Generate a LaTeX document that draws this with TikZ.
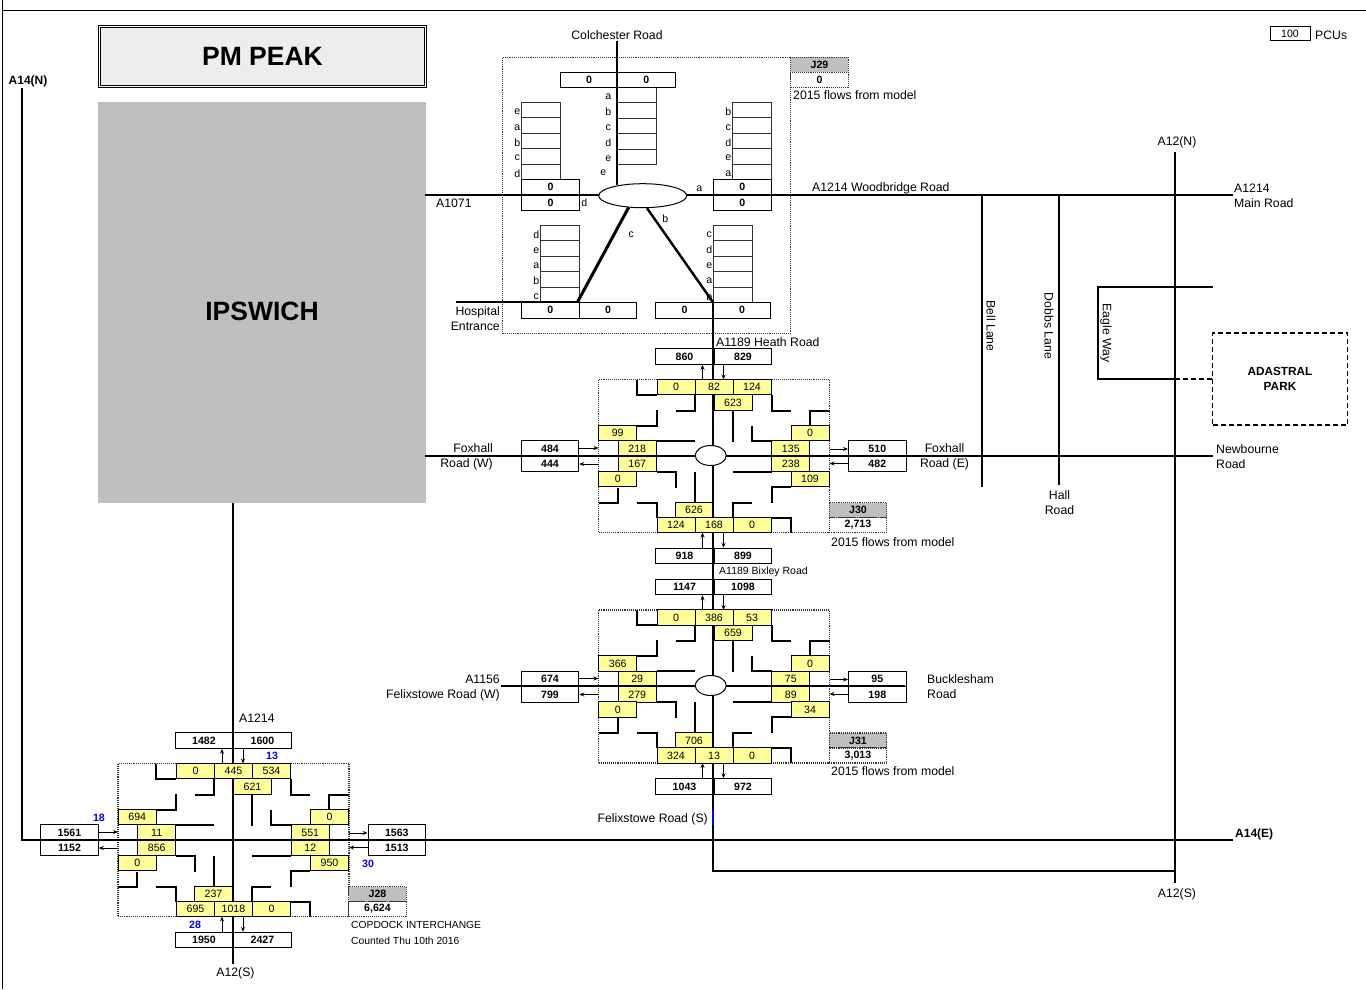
\documentclass[tikz,border=0pt]{standalone}
\usepackage{fontspec}
\setmainfont{Liberation Sans}
\usepackage{tikz}
\usetikzlibrary{arrows.meta, shapes.geometric}

\pgfdeclarelayer{top}
\pgfsetlayers{main,top}

\newcommand{\roadfont}{\fontsize{12.25}{15}\selectfont}
\newcommand{\smallfont}{\fontsize{10.6}{15.5}\selectfont}
\newcommand{\tallyfont}{\fontsize{10.6}{13}\selectfont\bfseries}

\tikzset{
  every node/.style={font=\roadfont, inner sep=0pt},
  road/.style={draw=black, line width=1.7pt},
  kerb/.style={draw=black, line width=2pt},
  flow/.style={-{Stealth[length=5pt, width=4pt]}, line width=.9pt},
  cellbox/.style={rectangle, draw=black, line width=.8pt, fill=cellyellow,
                  minimum width=38pt, minimum height=15.4pt, font=\smallfont},
  tally/.style={rectangle, draw=black, line width=.9pt,
                minimum width=57.6pt, minimum height=15.6pt, font=\tallyfont},
  stackcell/.style={rectangle, draw=black!80, line width=.8pt, minimum width=39pt,
                    minimum height=15.4pt},
  letter/.style={font=\smallfont},
  tag/.style={rectangle, draw=black!80, densely dotted, line width=1.1pt, fill=black!25,
              minimum width=57.5pt, minimum height=15pt, font=\tallyfont},
  total/.style={tag, fill=white},
  frame/.style={rectangle, draw=black!80, densely dotted, line width=1.1pt},
  hub/.style={ellipse, draw=black, line width=1pt, fill=white},
  extra/.style={font=\tallyfont, text=blue},
  parkline/.style={dash pattern=on 5pt off 3pt}
}
\definecolor{cellyellow}{HTML}{FFFF99}

% junction: name, corner, values of cells and tallies, tag, total
\newcommand{\junction}[5]{
  \begin{scope}[shift={(#2)}]
    \node[frame, minimum width=231pt, minimum height=153pt] (#1frame) at (115.5,76.5) {};
    \draw[kerb] (38,0) |- (58,15)  (77,31) -| (96,15)  (58,30) |- (38,46)
                (173,15) |- (192,31)  (231,31) -| (211,46)  (134,31) -- (134,62)
                (153,46) |- (173,61)  (58,61) -- (96,61)
                (58,92) -| (77,108)  (96,92) -- (96,123)  (134,92) -- (173,92)
                (38,123) -| (58,138)  (0,123) -| (19,108)  (173,123) |- (192,107)
                (153,123) -| (134,138)  (173,138) -| (192,153);
    \foreach \i/\cx/\cy/\sty in {
      1/77.5/7.5/cellbox, 3/153.5/7.5/cellbox, 4/134.5/23/cellbox,
      5/19.2/53.5/cellbox, 6/38.7/69/cellbox, 7/38.7/84.5/cellbox, 8/19.2/99.5/cellbox,
      9/211.5/53.5/cellbox, 10/192.3/69/cellbox, 11/192.3/84.5/cellbox, 12/211.5/99.5/cellbox,
      13/95.5/130.5/cellbox, 14/77.5/145.5/cellbox, 16/153.5/145.5/cellbox,
      17/86/-23/tally, 18/144.5/-23/tally, 19/86/176.5/tally, 20/144.5/176.5/tally,
      21/-48.5/69/tally, 22/-48.5/84.5/tally, 23/278.8/69/tally, 24/278.8/84.5/tally} {
      \pgfmathtruncatemacro\val{{#3}[\i-1]}
      \node[\sty] (#1n\i) at (\cx,\cy) {\val};
    }
    \begin{pgfonlayer}{top}
      \foreach \i/\cy in {2/7.5, 15/145.5} {
        \pgfmathtruncatemacro\val{{#3}[\i-1]}
        \node[cellbox] (#1n\i) at (115.5,\cy) {\val};
      }
    \end{pgfonlayer}
    \coordinate (#1tu) at (104,0);
    \coordinate (#1td) at (125,0);
    \coordinate (#1bu) at (104,153);
    \coordinate (#1bd) at (125,153);
    \coordinate (#1li) at (0,68.5);
    \coordinate (#1lo) at (0,84.5);
    \coordinate (#1ro) at (231,69.5);
    \coordinate (#1ri) at (231,84);
    \draw[flow] (#1tu) -- (#1tu |- #1n17.south);
    \draw[flow] (#1td |- #1n18.south) -- (#1td);
    \draw[flow] (#1bu |- #1n19.north) -- (#1bu);
    \draw[flow] (#1bd) -- (#1bd |- #1n20.north);
    \draw[flow] (#1li -| #1n21.east) -- (#1li);
    \draw[flow] (#1lo) -- (#1lo -| #1n22.east);
    \draw[flow] (#1ro) -- (#1ro -| #1n23.west);
    \draw[flow] (#1ri -| #1n24.west) -- (#1ri);
    \node[tag] (#1tag) at (259.5,130.5) {#4};
    \node[total] (#1total) at (259.5,145.5) {#5};
  \end{scope}
}

% stack of five cells: name, top left corner, letter offset, letters
\newcommand{\armstack}[4]{
  \begin{scope}[shift={(#2)}]
    \foreach \nm [count=\i] in {#4} {
      \node[stackcell] (#1c\i) at (19.5,7.7+15.4*\i-15.4) {};
      \node[letter] (#1l\i) at (-#3,9.5+15.4*\i-15.4) {\nm};
    }
  \end{scope}
}

\begin{document}
\begin{tikzpicture}[x=1pt, y=-1pt]
  \useasboundingbox (0,0) rectangle (1366,989);

  % sheet edges
  \coordinate (sheettl) at (2.5,10.5);
  \coordinate (sheetbl) at (2.5,989);
  \coordinate (sheetup) at (2.5,0);
  \coordinate (sheetr) at (1366,10.5);
  \draw[line width=.9pt] (sheetup) -- (sheetbl) (sheettl) -- (sheetr);

  % title and town
  \node[draw=black, double, double distance=1.3pt, line width=.9pt, fill=black!7,
        minimum width=326pt, minimum height=60pt, font=\fontsize{26.5}{30}\selectfont\bfseries]
        (title) at (262.5,56.7) {PM PEAK};
  \node[fill=black!25, minimum width=328pt, minimum height=401pt] (ipswich) at (262,302.5) {};
  \node[font=\fontsize{26.5}{30}\selectfont\bfseries] (ipswichname) at (262,311) {IPSWICH};

  % key
  \node[draw=black, line width=.9pt, minimum width=40pt, minimum height=14pt,
        font=\smallfont] (keybox) at (1290,33.5) {100};
  \node[anchor=west] (keytext) at (1315,35) {PCUs};

  % road ends
  \coordinate (colchester) at (617,41);
  \coordinate (colchesterb) at (617,185);
  \coordinate (woodw) at (425,195);
  \coordinate (woode) at (1233,195);
  \coordinate (hospital) at (456,302);
  \coordinate (jdsw) at (577.5,302);
  \coordinate (jdse) at (712.8,302);
  \coordinate (felixs) at (712.8,871);
  \coordinate (felixa) at (712.8,810);
  \coordinate (felixb) at (712.8,825);
  \coordinate (a12n) at (1175,152);
  \coordinate (a12s) at (1175,883);
  \coordinate (a12f) at (1175,871);
  \coordinate (a14n) at (22,88);
  \coordinate (a14c) at (22,840);
  \coordinate (a14e) at (1233,840);
  \coordinate (foxw) at (425,456);
  \coordinate (foxe) at (1213,456);
  \coordinate (felw) at (501,686);
  \coordinate (bucke) at (905,686);
  \coordinate (bellt) at (982,195);
  \coordinate (bellb) at (982,487);
  \coordinate (dobbst) at (1059,195);
  \coordinate (dobbsb) at (1059,485);
  \coordinate (eaglee) at (1213,287);
  \coordinate (eaglec) at (1098,287);
  \coordinate (eagled) at (1098,379);
  \coordinate (eaglej) at (1175,379);
  \coordinate (parkw) at (1213,379);
  \coordinate (a1214b) at (232.8,503);
  \coordinate (a12sb) at (232.8,964);

  \junction{jb}{598.5,379.5}{0,82,124,623,99,218,167,0,0,135,238,109,626,124,168,0,860,829,918,899,484,444,510,482}{J30}{2,713}
  \junction{jc}{598.5,610}{0,386,53,659,366,29,279,0,0,75,89,34,706,324,13,0,1147,1098,1043,972,674,799,95,198}{J31}{3,013}
  \junction{ja}{118,763.5}{0,445,534,621,694,11,856,0,0,551,12,950,237,695,1018,0,1482,1600,1950,2427,1561,1152,1563,1513}{J28}{6,624}

  % J29 arms
  \node[frame, minimum width=288pt, minimum height=276pt] (jdframe) at (646.7,195.3) {};
  \armstack{jdn}{617.2,87.3}{9}{a,b,c,d,e}
  \armstack{jdw}{521.2,102.3}{4}{e,a,b,c,d}
  \armstack{jde}{732.2,102.3}{4}{b,c,d,e,a}
  \armstack{jdsw}{540.2,225.3}{4}{d,e,a,b,c}
  \armstack{jdse}{713.2,225.3}{4}{c,d,e,a,b}
  \node[tally] (jdn1) at (589,79.8) {0};
  \node[tally] (jdn2) at (646.3,79.8) {0};
  \node[tally] (jdw1) at (550.5,187) {0};
  \node[tally] (jdw2) at (550.5,202.5) {0};
  \node[tally] (jde1) at (742.3,187) {0};
  \node[tally] (jde2) at (742.3,202.5) {0};
  \node[tally, minimum height=16.3pt] (jds1) at (550.3,310.2) {0};
  \node[tally, minimum height=16.3pt] (jds2) at (608,310.2) {0};
  \node[tally, minimum height=16.3pt] (jds3) at (684.5,310.2) {0};
  \node[tally, minimum height=16.3pt] (jds4) at (742,310.2) {0};
  \node[tag] (jdtag) at (819.5,64.8) {J29};
  \node[total] (jdtotal) at (819.5,79.8) {0};
  \node[letter] (jdle) at (603.3,172.7) {e};
  \node[letter] (jdla) at (699.3,188.3) {a};
  \node[letter] (jdld) at (584.3,202.5) {d};
  \node[letter] (jdlb) at (665.3,218.3) {b};
  \node[letter] (jdlc) at (631.3,235) {c};

  \draw[road] (colchester) -- (colchesterb);
  \draw[road] (woodw) -- (woode);
  \draw[road] (hospital) -- (jdsw);
  \draw[road] (jdse) -- (felixs) -- (a12f);
  \draw[road] (a12n) -- (a12s);
  \draw[road] (a14n) -- (a14c) -- (a14e);
  \draw[road] (foxw) -- (foxe);
  \draw[road] (felw) -- (bucke);
  \draw[road] (bellt) -- (bellb);
  \draw[road] (dobbst) -- (dobbsb);
  \draw[road] (eaglee) -- (eaglec) -- (eagled) -- (eaglej);
  \draw[road, parkline] (eaglej) -- (parkw);
  \draw[road] (a1214b) -- (a12sb);
  \draw[road, draw=blue] (felixa) -- (felixb);

  \node[hub, minimum width=88pt, minimum height=24pt] (jdhub) at (642.7,195.7) {};
  \node[hub, minimum width=31pt, minimum height=20pt] (jbhub) at (710.7,455.5) {};
  \node[hub, minimum width=31pt, minimum height=20pt] (jchub) at (710.7,685.5) {};
  \draw[line width=3pt] (jdhub.220) -- (jdsw);
  \draw[line width=2.4pt] (jdhub.289) -- (jdse);

  % park
  \node[draw=black, parkline, line width=1.5pt, minimum width=135pt, minimum height=92pt,
        align=center, font=\fontsize{11.8}{15}\selectfont\bfseries] (park) at (1280,379) {ADASTRAL\\PARK};

  % road names
  \node (colname) at (617,35) {Colchester Road};
  \node[anchor=west] (jdnote) at (793,95) {2015 flows from model};
  \node[anchor=west] (a1071) at (436,203) {A1071};
  \node[anchor=west] (woodname) at (812,188.5) {A1214 Woodbridge Road};
  \node[anchor=west, align=left] (mainname) at (1234,195.5) {A1214\\Main Road};
  \node (a12nname) at (1177,142.5) {A12(N)};
  \node[anchor=east, align=right] (hospname) at (500,318.5) {Hospital\\Entrance};
  \node[anchor=west] (heath) at (716,342) {A1189 Heath Road};
  \node[anchor=east, align=right] (foxwname) at (493,457) {Foxhall\\Road (W)};
  \node[align=center] (foxename) at (944.5,457) {Foxhall\\Road (E)};
  \node[anchor=west, align=left] (newbourne) at (1216,457) {Newbourne\\Road};
  \node[align=center] (hall) at (1059.5,502.5) {Hall\\Road};
  \node[rotate=-90] (bell) at (991,326) {Bell Lane};
  \node[rotate=-90] (dobbs) at (1049,326) {Dobbs Lane};
  \node[rotate=-90] (eagle) at (1106,333) {Eagle Way};
  \node[anchor=west] (jbnote) at (831,542) {2015 flows from model};
  \node[anchor=west, font=\fontsize{10.5}{13}\selectfont] (bixley) at (719,571.5) {A1189 Bixley Road};
  \node[anchor=east, align=right] (felwname) at (500,688) {A1156\\Felixstowe Road (W)};
  \node[anchor=west, align=left] (buck) at (927,686.5) {Bucklesham\\Road};
  \node[anchor=west] (jcnote) at (831,771) {2015 flows from model};
  \node[anchor=west] (a1214name) at (239,718) {A1214};
  \node[anchor=east] (felsname) at (708,819) {Felixstowe Road (S)};
  \node[anchor=west, font=\fontsize{12}{15}\selectfont\bfseries] (a14ename) at (1235,834) {A14(E)};
  \node[font=\fontsize{12}{15}\selectfont\bfseries] (a14nname) at (28,81) {A14(N)};
  \node (a12sname) at (1177,894.5) {A12(S)};
  \node (a12sleft) at (235.5,973) {A12(S)};
  \node[anchor=west, font=\fontsize{10.3}{13}\selectfont] (copdock) at (351,924.5) {COPDOCK INTERCHANGE};
  \node[anchor=west, font=\fontsize{10.3}{13}\selectfont] (counted) at (351,940.5) {Counted Thu 10th 2016};

  % extra counts
  \node[extra] (extran) at (272,755.5) {13};
  \node[extra] (extraw) at (99,817.5) {18};
  \node[extra] (extrae) at (368,863.5) {30};
  \node[extra] (extras) at (195,924.5) {28};
\end{tikzpicture}
\end{document}
